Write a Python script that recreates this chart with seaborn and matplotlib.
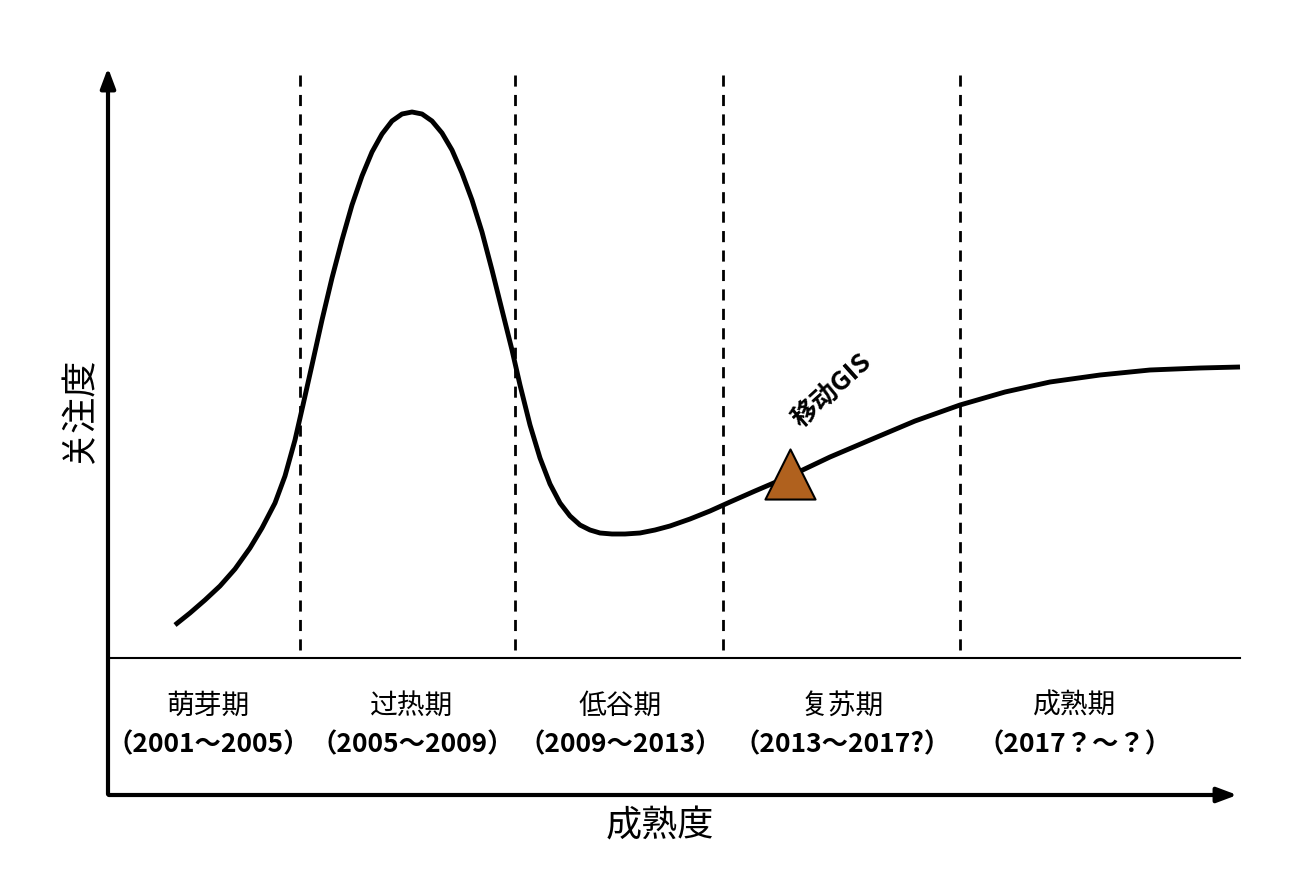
import matplotlib
matplotlib.use("Agg")
import matplotlib.pyplot as plt
from matplotlib import font_manager as fm
import seaborn as sns
import pandas as pd

# Curve (maturity vs attention), in chart units
curve_x = [175, 190, 205, 220, 235, 250, 262, 275, 285, 295, 303, 312, 322, 332, 342, 352, 362, 372, 382, 392, 402, 412, 422, 432, 442, 452, 462, 472, 482, 492, 502, 512, 520, 530, 540, 550, 560, 570, 580, 590, 600, 612, 625, 640, 655, 670, 690, 710, 730, 755, 790, 830, 870, 915, 960, 1005, 1050, 1100, 1150, 1200, 1240]
curve_y = [625, 613, 600, 586, 569, 548, 528, 503, 476, 440, 405, 365, 320, 278, 240, 205, 176, 152, 134, 121, 114, 112, 114, 121, 133, 150, 173, 200, 232, 270, 310, 350, 385, 425, 458, 484, 503, 516, 525, 530, 533, 534, 534, 533, 530, 526, 519, 511, 502, 491, 476, 457, 440, 421, 405, 392, 382, 375, 370, 368, 367]

phase_bounds = [300, 515, 723, 960]
phase_names = ["萌芽期", "过热期", "低谷期", "复苏期", "成熟期"]
phase_years = ["（2001～2005）", "（2005～2009）", "（2009～2013）", "（2013～2017?）", "（2017？～？）"]
phase_centers = [208, 412, 620, 842, 1075]

marker_x, marker_y = [790], [474]
marker_label = "移动GIS"

cjk = None
for f in fm.fontManager.ttflist:
    if "CJK" in f.name and ("SC" in f.name or cjk is None):
        cjk = f.name
plt.rcParams["font.family"] = [cjk or "Noto Sans CJK SC", "DejaVu Sans"]

fig = plt.figure(figsize=(12.9, 8.76), dpi=100)
ax = fig.add_axes([0, 0, 1, 1])
ax.set_xlim(0, 1290)
ax.set_ylim(876, 0)
ax.axis("off")

df = pd.DataFrame({"x": curve_x, "y": curve_y})
sns.lineplot(data=df, x="x", y="y", ax=ax, color="black", linewidth=3.5, sort=False,
             solid_joinstyle="round", solid_capstyle="butt")

for b in phase_bounds:
    ax.plot([b, b], [75, 658], color="black", lw=2, ls=(0, (4, 3)))
ax.plot([108, 1240], [658, 658], color="black", lw=1.5)

ax.annotate("", xy=(108, 65), xytext=(108, 797),
            arrowprops=dict(arrowstyle="-|>,head_length=1.2,head_width=0.45", color="black", lw=3))
ax.annotate("", xy=(1240, 795), xytext=(106, 795),
            arrowprops=dict(arrowstyle="-|>,head_length=1.2,head_width=0.45", color="black", lw=3))

for c, n, yr in zip(phase_centers, phase_names, phase_years):
    ax.text(c, 706, n, ha="center", va="center", fontsize=20)
    ax.text(c, 745, yr, ha="center", va="center", fontsize=19, fontweight="bold")

ax.scatter(marker_x, marker_y, marker="^", s=1300, color="#B0611E", edgecolor="black", linewidth=1.5, zorder=5)
ax.text(832, 390, marker_label, rotation=42, ha="center", va="center", fontsize=19, fontweight="bold")

ax.text(78, 410, "关注度", rotation=90, ha="center", va="center", fontsize=26)
ax.text(660, 826, "成熟度", ha="center", va="center", fontsize=26)

fig.savefig("out.png", dpi=100)
